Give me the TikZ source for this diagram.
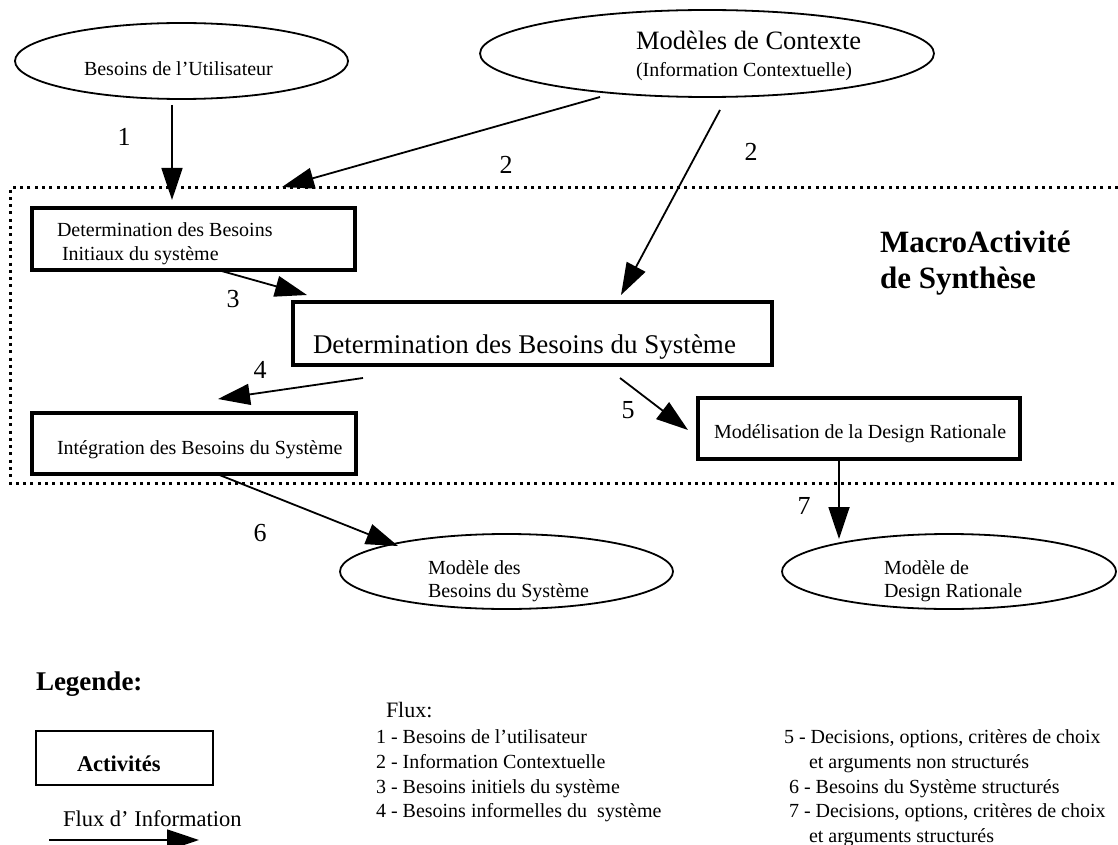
\documentclass[tikz,border=0pt]{standalone}
\usepackage{fontspec}
\setmainfont{Liberation Serif}
\usetikzlibrary{arrows.meta,shapes.geometric}
\begin{document}
\begin{tikzpicture}[x=1pt,y=-1pt,
  flow/.style={line width=1.8pt,-{Triangle[length=32pt,width=21pt]}},
  activity/.style={draw,line width=4.2pt,rectangle,inner sep=0pt,outer sep=0pt},
  model/.style={draw,line width=1.8pt,ellipse,inner sep=0pt,outer sep=0pt},
  txt/.style={anchor=base west,inner sep=0pt,outer sep=0pt},
  fnorm/.style={font=\fontsize{20pt}{24pt}\selectfont},
  fbig/.style={font=\fontsize{27pt}{32pt}\selectfont},
  fbold/.style={font=\bfseries\fontsize{31pt}{36pt}\selectfont},
  num/.style={inner sep=0pt,outer sep=0pt,font=\fontsize{26pt}{30pt}\selectfont},
  frame/.style={line width=3pt,dash pattern=on 3pt off 4.3pt},
]
\useasboundingbox (0,0) rectangle (1118,845);

% sources
\node[model,minimum width=333pt,minimum height=76pt] (u) at (181.5,61) {};
\node[txt,fnorm] (ut) at (84,76) {Besoins de l’Utilisateur};
\node[model,minimum width=454pt,minimum height=87pt] (ctx) at (707,53.5) {};
\node[txt,font=\fontsize{26.5pt}{30pt}\selectfont] (ct1) at (636,50) {Modèles de Contexte};
\node[txt,fnorm] (ct2) at (636,77) {(Information Contextuelle)};

% macro-activity frame
\draw[frame] (1118,188) -- (10,188) -- (10,483) -- (1118,483);
\node[txt,fbold] (m1) at (880,252) {MacroActivité};
\node[txt,fbold] (m2) at (880,288) {de Synthèse};

% activities
\node[activity,minimum width=323pt,minimum height=62pt] (a) at (193.5,239) {};
\node[txt,fnorm] (a1) at (57,236) {Determination des Besoins};
\node[txt,fnorm] (a2) at (62,260) {Initiaux du système};
\node[activity,minimum width=479pt,minimum height=63pt] (b) at (532.5,333.5) {};
\node[txt,fbig] (bt) at (313,353) {Determination des Besoins du Système};
\node[activity,minimum width=324pt,minimum height=61pt] (c) at (194,443.5) {};
\node[txt,fnorm] (cx) at (57,454) {Intégration des Besoins du Système};
\node[activity,minimum width=322pt,minimum height=61pt] (d) at (859,428.5) {};
\node[txt,fnorm] (dt) at (714,438) {Modélisation de la Design Rationale};

% resulting models
\node[model,minimum width=333pt,minimum height=75pt] (e) at (506.5,571.5) {};
\node[txt,fnorm] (e1) at (428,574) {Modèle des};
\node[txt,fnorm] (e2) at (428,597) {Besoins du Système};
\node[model,minimum width=334pt,minimum height=75pt] (f) at (949,571.5) {};
\node[txt,fnorm] (f1) at (884,574) {Modèle de};
\node[txt,fnorm] (f2) at (884,597) {Design Rationale};

% information flows
\coordinate (fr) at (282,187);
\draw[flow] ([xshift=-9.5pt,yshift=-6pt]u.south) -- ([xshift=-21.5pt,yshift=8pt]a.north);
\draw[flow] ([xshift=-107pt]ctx.south) -- (fr);
\draw[flow] ([xshift=13pt,yshift=-13pt]ctx.south) -- ([xshift=88.5pt,yshift=7pt]b.north);
\draw[flow] ([xshift=24.5pt]a.south) -- ([xshift=14pt,yshift=7pt]b.north west);
\draw[flow] ([xshift=-169.5pt,yshift=-13pt]b.south) -- ([xshift=24pt,yshift=14pt]c.north);
\draw[flow] ([xshift=87.5pt,yshift=-13pt]b.south) -- ([xshift=-10pt,yshift=-1.5pt]d.west);
\draw[flow] ([xshift=23pt]c.south) -- ([xshift=-108.5pt,yshift=-12pt]e.north);
\draw[flow] ([xshift=-20pt,yshift=-1pt]d.south) -- ([xshift=-110pt,yshift=-5pt]f.north);

% flow numbers
\node[num] (n1) at (124,137) {1};
\node[num] (n2a) at (506,165) {2};
\node[num] (n2b) at (751,152) {2};
\node[num] (n3) at (233,299) {3};
\node[num] (n4) at (260,370) {4};
\node[num] (n5) at (628,410) {5};
\node[num] (n6) at (260,533) {6};
\node[num] (n7) at (804,506) {7};

% legend
\node[txt,font=\bfseries\fontsize{27pt}{32pt}\selectfont] (lg) at (36,690) {Legende:};
\node[draw,line width=2.2pt,rectangle,minimum width=177pt,minimum height=54pt,inner sep=0pt,outer sep=0pt] (act) at (124.5,758) {};
\node[txt,font=\bfseries\fontsize{22.5pt}{26pt}\selectfont] (actt) at (77,771) {Activités};
\node[txt,font=\fontsize{22.5pt}{26pt}\selectfont] (lf) at (63,826) {Flux d’ Information};
\coordinate (la) at (49,840);
\coordinate (lb) at (199,840);
\draw[flow] (la) -- (lb);

\node[txt,font=\fontsize{22pt}{26pt}\selectfont] (fx) at (386,717) {Flux:};
\node[txt,fnorm] (l1) at (376,743.7) {1 - Besoins de l’utilisateur};
\node[txt,fnorm] (l2) at (376,768.4) {2 - Information Contextuelle};
\node[txt,fnorm] (l3) at (376,793.1) {3 - Besoins initiels du système};
\node[txt,fnorm] (l4) at (376,817.8) {4 - Besoins informelles du~~système};
\node[txt,fnorm] (l5) at (784,743.7) {5 - Decisions, options, critères de choix};
\node[txt,fnorm] (l5b) at (809,768.4) {et arguments non structurés};
\node[txt,fnorm] (l6) at (789,793.1) {6 - Besoins du Système structurés};
\node[txt,fnorm] (l7) at (789,817.8) {7 - Decisions, options, critères de choix};
\node[txt,fnorm] (l7b) at (809,842.5) {et arguments structurés};
\end{tikzpicture}
\end{document}
